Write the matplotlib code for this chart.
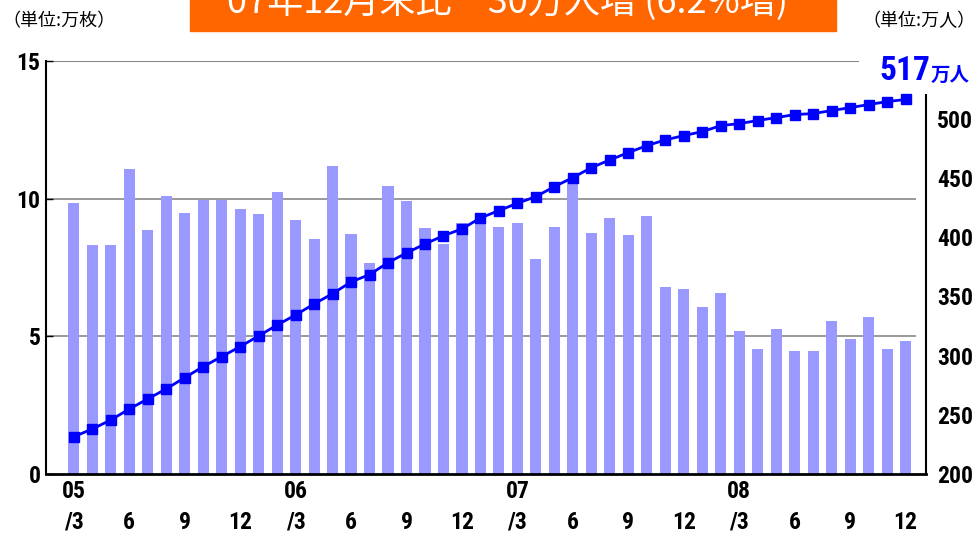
import matplotlib
matplotlib.use("Agg")
import matplotlib.pyplot as plt
from matplotlib.patches import Rectangle
from matplotlib import font_manager
import numpy as np

# ── data: monthly, 2005/3 .. 2008/12 ─────────────────────────────────────────
months = [f"{y:02d}/{m}" for y in range(5, 9) for m in range(1, 13)][2:]
sales = [9.83, 8.32, 8.32, 11.08, 8.86, 10.10, 9.48, 9.95, 9.95, 9.63,
         9.45, 10.24, 9.23, 8.54, 11.19, 8.72, 7.66, 10.46, 9.92, 8.94,
         8.35, 9.11, 9.47, 8.97, 9.11, 7.81, 8.97, 10.64, 8.75, 9.30,
         8.68, 9.37, 6.79, 6.72, 6.07, 6.57, 5.19, 4.54, 5.27, 4.47,
         4.47, 5.56, 4.90, 5.70, 4.54, 4.83]          # 万枚
users = [231.5, 238, 245.6, 254.9, 263.4, 271.9, 281.4, 290.7, 299.2, 307.6,
         316.7, 325.9, 334.4, 343.7, 352.4, 362.3, 368.5, 378.6, 386.8, 394.4,
         401.4, 407.1, 416.4, 422.6, 428.8, 434.4, 442.9, 450.5, 458.9, 465.4,
         471.6, 477.5, 482.3, 486.0, 489.3, 494.4, 496.1, 498.7, 501.2, 503.7,
         504.6, 507.1, 509.6, 512.2, 514.7, 516.5]    # 万人
year_labels = ["05", "06", "07", "08"]
month_labels = ["/3", "6", "9", "12"]
left_ticks = [0, 5, 10, 15]
right_ticks = [200, 250, 300, 350, 400, 450, 500]

# ── fonts ────────────────────────────────────────────────────────────────────
names = {f.name for f in font_manager.fontManager.ttflist}
candidates = ["Roboto Condensed", "Archivo Narrow", "PT Sans Narrow", "Barlow Condensed",
              "Liberation Sans Narrow", "Oswald", "Fjalla One", "DejaVu Sans"]
narrow = next(c for c in candidates if c in names)
jp = ["Noto Sans CJK JP", "DejaVu Sans"]
num_font = dict(family=narrow, fontweight="bold", fontsize=17)

BAR = "#9999ff"
LINE = "#0000ff"
ORANGE = "#ff6600"

W, H = 976, 537
fig = plt.figure(figsize=(W / 100, H / 100), dpi=100)
ax = fig.add_axes([46 / W, (H - 474) / H, (926 - 46) / W, (474 - 61) / H])
ax2 = ax.twinx()

x = np.arange(len(months))
ax.bar(x, sales, width=0.6, color=BAR, zorder=2)
ax2.plot(x, users, color=LINE, lw=2, marker="s", ms=7, zorder=3)

ax.set_xlim(-1.5, 46.1)
ax.set_ylim(0, 15)
ax2.set_ylim(200, 549)

# grid lines
ax.hlines([5, 10], -1.5, 45.55, color="#888888", lw=1.2, zorder=1)
ax.hlines(15, -1.5, 42.45, color="#888888", lw=1.5, zorder=1)

# ticks
ax.set_yticks(left_ticks)
ax.set_yticklabels([str(t) for t in left_ticks], **num_font)
ax.tick_params(axis="y", length=5, width=1, pad=4, direction="in")
ax2.set_yticks(right_ticks)
ax2.set_yticklabels([str(t) for t in right_ticks], **num_font)
ax2.tick_params(axis="y", length=0, pad=8)

xt = list(range(0, len(months), 3))
labels = []
for i in xt:
    yr = year_labels[i // 12]
    mo = month_labels[(i // 3) % 4]
    labels.append(f"{yr}\n{mo}" if mo == "/3" else f"\n{mo}")
ax.set_xticks(xt)
ax.set_xticklabels(labels, linespacing=1.45, **num_font)
ax.tick_params(axis="x", length=0, pad=4)

ax.spines["top"].set_visible(False)
ax2.spines["top"].set_visible(False)
ax2.spines["left"].set_visible(False)
ax2.spines["bottom"].set_visible(False)
ax.spines["right"].set_visible(False)
ax.spines["left"].set_linewidth(1.5)
ax.spines["bottom"].set_linewidth(2)
ax2.spines["right"].set_linewidth(1.5)
ax2.spines["right"].set_bounds(200, 520)

# unit labels
fig.text(2 / W, 1 - 21 / H, "（単位:万枚）", family=jp, fontsize=13, va="center", ha="left")
fig.text(976 / W, 1 - 21 / H, "（単位:万人）", family=jp, fontsize=13, va="center", ha="right")

# end value label
fig.text(930 / W, 1 - 71 / H, "517", family=narrow, fontweight="bold",
         fontsize=24, color=LINE, ha="right", va="center")
fig.text(931 / W, 1 - 75 / H, "万人", family=jp, fontweight="bold",
         fontsize=14, color=LINE, ha="left", va="center")

# title banner, cropped at the top
fig.patches.append(Rectangle((190 / W, 1 - 31 / H), (836 - 190) / W, 31 / H,
                             transform=fig.transFigure, color=ORANGE, zorder=0))
fig.text(508 / W, 1 - 13 / H, "07年12月末比　30万人増 (6.2%増)", family=jp,
         fontsize=26, color="white", ha="center", va="baseline")

fig.savefig("out.png", dpi=100)
